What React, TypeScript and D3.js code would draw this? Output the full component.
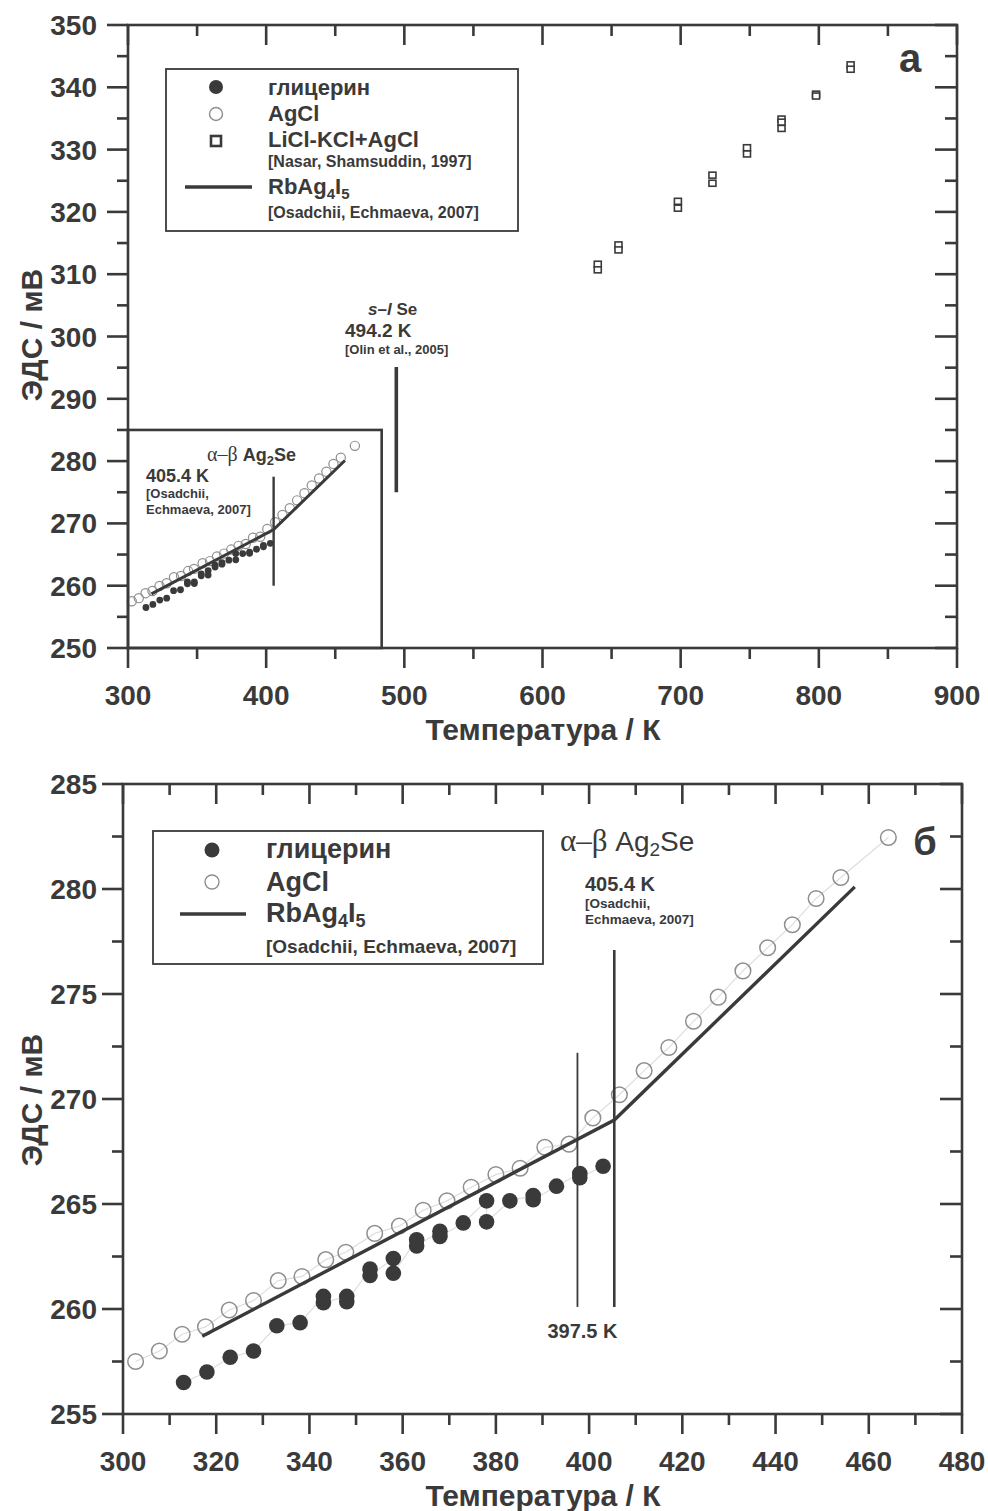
import React from 'react'
import { scaleLinear, line } from 'd3'

const FONT = '"Liberation Sans", Arial, Helvetica, sans-serif'
const SERIF = '"Liberation Serif", "Times New Roman", serif'
const INK = '#3a3a3a'
const OPEN = '#8e8e8e'
const FAINT = '#dedede'

// глицерин (T, K / E, mV)
const glycerinT = [313, 318, 323, 328, 333, 338, 343, 343, 348, 348, 353, 353, 358, 358, 363, 363, 368, 368, 373, 378, 378, 383, 388, 388, 393, 398, 398, 403]
const glycerinE = [256.5, 257.0, 257.7, 258.0, 259.2, 259.35, 260.6, 260.3, 260.6, 260.35, 261.9, 261.6, 262.4, 261.7, 263.3, 263.0, 263.7, 263.45, 264.1, 265.15, 264.15, 265.15, 265.4, 265.2, 265.85, 266.45, 266.25, 266.8]

// AgCl
const agclT = [302.7, 307.8, 312.7, 317.7, 322.8, 328.0, 333.3, 338.4, 343.5, 347.8, 354.0, 359.3, 364.4, 369.5, 374.7, 380.0, 385.2, 390.5, 395.7, 400.8, 406.5, 411.8, 417.1, 422.4, 427.7, 433.0, 438.3, 443.6, 448.7, 454.0, 464.2]
const agclE = [257.5, 258.0, 258.8, 259.15, 259.95, 260.4, 261.35, 261.55, 262.35, 262.7, 263.6, 263.95, 264.7, 265.15, 265.8, 266.4, 266.7, 267.7, 267.85, 269.1, 270.2, 271.35, 272.45, 273.7, 274.85, 276.1, 277.2, 278.3, 279.55, 280.55, 282.45]

// LiCl-KCl+AgCl [Nasar, Shamsuddin, 1997]
const liclT = [640, 640, 655, 655, 698, 698, 723, 723, 748, 748, 773, 773, 773, 798, 798, 823, 823]
const liclE = [311.6, 310.7, 314.7, 313.9, 321.7, 320.6, 325.9, 324.6, 330.3, 329.3, 334.9, 334.4, 333.4, 338.9, 338.6, 343.6, 342.9]

// RbAg4I5 [Osadchii, Echmaeva, 2007]
const rbT = [317, 405.4, 457]
const rbE = [258.7, 269.0, 280.1]

// vertical transition marks
const topMarkT = [405.4, 494.2]
const topMarkLo = [260, 275]
const topMarkHi = [277.5, 295.1]
const botMarkT = [397.5, 405.4]
const botMarkLo = [260.1, 260.1]
const botMarkHi = [272.2, 277.1]

// zoomed region drawn in panel a
const insetT = [300, 483.6]
const insetE = [250, 285]

// ticks
const topXMajor = [300, 400, 500, 600, 700, 800, 900]
const topXMinor = [350, 450, 550, 650, 750, 850]
const topYMajor = [250, 260, 270, 280, 290, 300, 310, 320, 330, 340, 350]
const topYMinor = [255, 265, 275, 285, 295, 305, 315, 325, 335, 345]
const botXMajor = [300, 320, 340, 360, 380, 400, 420, 440, 460, 480]
const botXMinor = [310, 330, 350, 370, 390, 410, 430, 450, 470]
const botYMajor = [255, 260, 265, 270, 275, 280, 285]
const botYMinor = [257.5, 262.5, 267.5, 272.5, 277.5, 282.5]

const pts = (ts, es) => ts.map((t, i) => [t, es[i]])

const Frame = ({ x, y, xMajor, xMinor, yMajor, yMinor }) => {
  const [x0, x1] = x.range()
  const [yb, yt] = y.range()
  return (
    <g stroke={INK} strokeWidth={2.6} fill="none">
      {xMajor.map(t => (
        <g key={`xM${t}`}>
          <line x1={x(t)} x2={x(t)} y1={yb} y2={yb + 20} />
          <line x1={x(t)} x2={x(t)} y1={yt} y2={yt + 20} />
        </g>
      ))}
      {xMinor.map(t => (
        <g key={`xm${t}`}>
          <line x1={x(t)} x2={x(t)} y1={yb} y2={yb + 11} />
          <line x1={x(t)} x2={x(t)} y1={yt} y2={yt + 11} />
        </g>
      ))}
      {yMajor.map(t => (
        <g key={`yM${t}`}>
          <line x1={x0 - 21} x2={x0} y1={y(t)} y2={y(t)} />
          <line x1={x1 - 22} x2={x1} y1={y(t)} y2={y(t)} />
        </g>
      ))}
      {yMinor.map(t => (
        <g key={`ym${t}`}>
          <line x1={x0 - 11} x2={x0} y1={y(t)} y2={y(t)} />
          <line x1={x1 - 12} x2={x1} y1={y(t)} y2={y(t)} />
        </g>
      ))}
      <rect x={x0} y={yt} width={x1 - x0} height={yb - yt} />
    </g>
  )
}

const TickLabels = ({ x, y, xMajor, yMajor, titleY, gap }) => {
  const [x0] = x.range()
  const [yb] = y.range()
  return (
    <g fill={INK} fontFamily={FONT} fontWeight="bold">
      <g fontSize={28}>
        {xMajor.map(t => (
          <text key={t} x={x(t)} y={yb + 57} textAnchor="middle">{t}</text>
        ))}
        {yMajor.map(t => (
          <text key={t} x={x0 - gap} y={y(t) + 10} textAnchor="end">{t}</text>
        ))}
      </g>
      <text x={543} y={yb + 92} fontSize={30} textAnchor="middle">Температура / К</text>
      <text transform={`translate(42, ${titleY}) rotate(-90)`} fontSize={30} textAnchor="middle">ЭДС / мВ</text>
    </g>
  )
}

const Rb = ({ x, y, size, sub }) => (
  <text x={x} y={y} fontSize={size}>
    RbAg<tspan fontSize={sub} dy={5}>4</tspan><tspan dy={-5}>I</tspan><tspan fontSize={sub} dy={5}>5</tspan>
  </text>
)

const App = () => {
  const xA = scaleLinear().domain([300, 900]).range([128, 957])
  const yA = scaleLinear().domain([250, 350]).range([648, 25])
  const xB = scaleLinear().domain([300, 480]).range([123, 962])
  const yB = scaleLinear().domain([255, 285]).range([1414, 784])

  const glyc = pts(glycerinT, glycerinE)
  const agcl = pts(agclT, agclE)
  const licl = pts(liclT, liclE)
  const rb = pts(rbT, rbE)

  const pathA = line().x(d => xA(d[0])).y(d => yA(d[1]))
  const pathB = line().x(d => xB(d[0])).y(d => yB(d[1]))

  return (
    <svg width={988} height={1511} style={{ position: 'absolute', left: 0, top: 0, background: 'white' }}>
      {/* ---------- panel а ---------- */}
      <g>
        <rect x={xA(insetT[0])} y={yA(insetE[1])} width={xA(insetT[1]) - xA(insetT[0])} height={yA(insetE[0]) - yA(insetE[1])}
          fill="none" stroke={INK} strokeWidth={2.6} />
        {agcl.map((d, i) => (
          <circle key={i} cx={xA(d[0])} cy={yA(d[1])} r={4.6} fill="none" stroke={OPEN} strokeWidth={1.2} />
        ))}
        {glyc.map((d, i) => (
          <circle key={i} cx={xA(d[0])} cy={yA(d[1])} r={3.4} fill={INK} />
        ))}
        {licl.map((d, i) => (
          <rect key={i} x={xA(d[0]) - 3.5} y={yA(d[1]) - 3} width={7} height={6} fill="white" stroke={INK} strokeWidth={1.6} />
        ))}
        <path d={pathA(rb)} fill="none" stroke={INK} strokeWidth={3} />
        {topMarkT.map((t, i) => (
          <line key={t} x1={xA(t)} x2={xA(t)} y1={yA(topMarkLo[i])} y2={yA(topMarkHi[i])} stroke={INK} strokeWidth={i === 0 ? 2.4 : 3.6} />
        ))}
        <Frame x={xA} y={yA} xMajor={topXMajor} xMinor={topXMinor} yMajor={topYMajor} yMinor={topYMinor} />
        <TickLabels x={xA} y={yA} xMajor={topXMajor} yMajor={topYMajor} titleY={335} gap={31} />

        {/* legend */}
        <rect x={166} y={69} width={352} height={162} fill="white" stroke={INK} strokeWidth={1.8} />
        <circle cx={216} cy={87} r={7} fill={INK} />
        <circle cx={216} cy={114} r={6.5} fill="none" stroke={OPEN} strokeWidth={1.4} />
        <rect x={211} y={136} width={10} height={10} fill="none" stroke={INK} strokeWidth={2.6} />
        <line x1={185} x2={252} y1={187} y2={187} stroke={INK} strokeWidth={3.4} />
        <g fill={INK} fontFamily={FONT} fontWeight="bold">
          <text x={268} y={95} fontSize={22}>глицерин</text>
          <text x={268} y={121} fontSize={22}>AgCl</text>
          <text x={268} y={147} fontSize={22}>LiCl-KCl+AgCl</text>
          <text x={268} y={167} fontSize={16}>[Nasar, Shamsuddin, 1997]</text>
          <Rb x={268} y={194} size={22} sub={15} />
          <text x={268} y={218} fontSize={16}>[Osadchii, Echmaeva, 2007]</text>
        </g>

        {/* annotations */}
        <g fill={INK} fontFamily={FONT} fontWeight="bold">
          <text x={207} y={461} fontSize={18}>
            <tspan fontFamily={SERIF} fontWeight="normal" fontSize={20}>α–β </tspan>Ag<tspan fontSize={13} dy={4}>2</tspan><tspan dy={-4}>Se</tspan>
          </text>
          <text x={146} y={482} fontSize={18}>405.4 K</text>
          <text x={146} y={498} fontSize={13}>[Osadchii,</text>
          <text x={146} y={514} fontSize={13}>Echmaeva, 2007]</text>
          <text x={368} y={315} fontSize={17}>
            <tspan fontStyle="italic">s</tspan>–<tspan fontStyle="italic">l</tspan> Se
          </text>
          <text x={345} y={337} fontSize={19}>494.2 K</text>
          <text x={345} y={354} fontSize={13}>[Olin et al., 2005]</text>
          <text x={910} y={72} fontSize={40} textAnchor="middle">а</text>
        </g>
      </g>

      {/* ---------- panel б ---------- */}
      <g>
        <path d={pathB(agcl)} fill="none" stroke={FAINT} strokeWidth={1.2} />
        <path d={pathB(glyc)} fill="none" stroke={FAINT} strokeWidth={1.2} />
        {agcl.map((d, i) => (
          <circle key={i} cx={xB(d[0])} cy={yB(d[1])} r={7.8} fill="none" stroke={OPEN} strokeWidth={1.5} />
        ))}
        {glyc.map((d, i) => (
          <circle key={i} cx={xB(d[0])} cy={yB(d[1])} r={7.8} fill={INK} />
        ))}
        <path d={pathB(rb)} fill="none" stroke={INK} strokeWidth={3.4} />
        {botMarkT.map((t, i) => (
          <line key={t} x1={xB(t)} x2={xB(t)} y1={yB(botMarkLo[i])} y2={yB(botMarkHi[i])} stroke={INK} strokeWidth={i === 0 ? 1.8 : 2.6} />
        ))}
        <Frame x={xB} y={yB} xMajor={botXMajor} xMinor={botXMinor} yMajor={botYMajor} yMinor={botYMinor} />
        <TickLabels x={xB} y={yB} xMajor={botXMajor} yMajor={botYMajor} titleY={1100} gap={26} />

        {/* legend */}
        <rect x={153} y={831} width={390} height={133} fill="white" stroke={INK} strokeWidth={1.8} />
        <circle cx={212} cy={850} r={7.5} fill={INK} />
        <circle cx={212} cy={882} r={7} fill="none" stroke={OPEN} strokeWidth={1.4} />
        <line x1={180} x2={246} y1={914} y2={914} stroke={INK} strokeWidth={3.6} />
        <g fill={INK} fontFamily={FONT} fontWeight="bold">
          <text x={266} y={858} fontSize={27}>глицерин</text>
          <text x={266} y={891} fontSize={27}>AgCl</text>
          <Rb x={266} y={922} size={27} sub={18} />
          <text x={266} y={953} fontSize={19}>[Osadchii, Echmaeva, 2007]</text>
        </g>

        {/* annotations */}
        <g fill={INK} fontFamily={FONT}>
          <text x={560} y={851} fontSize={28}>
            <tspan fontFamily={SERIF} fontSize={31}>α–β </tspan>Ag<tspan fontSize={19} dy={5}>2</tspan><tspan dy={-5}>Se</tspan>
          </text>
          <g fontWeight="bold">
            <text x={585} y={891} fontSize={20}>405.4 K</text>
            <text x={585} y={908} fontSize={13.5}>[Osadchii,</text>
            <text x={585} y={924} fontSize={13.5}>Echmaeva, 2007]</text>
            <text x={xB(botMarkT[0]) + 5} y={1338} fontSize={20} textAnchor="middle">397.5 K</text>
            <text x={925} y={855} fontSize={38} textAnchor="middle">б</text>
          </g>
        </g>
      </g>
    </svg>
  )
}

export default App
